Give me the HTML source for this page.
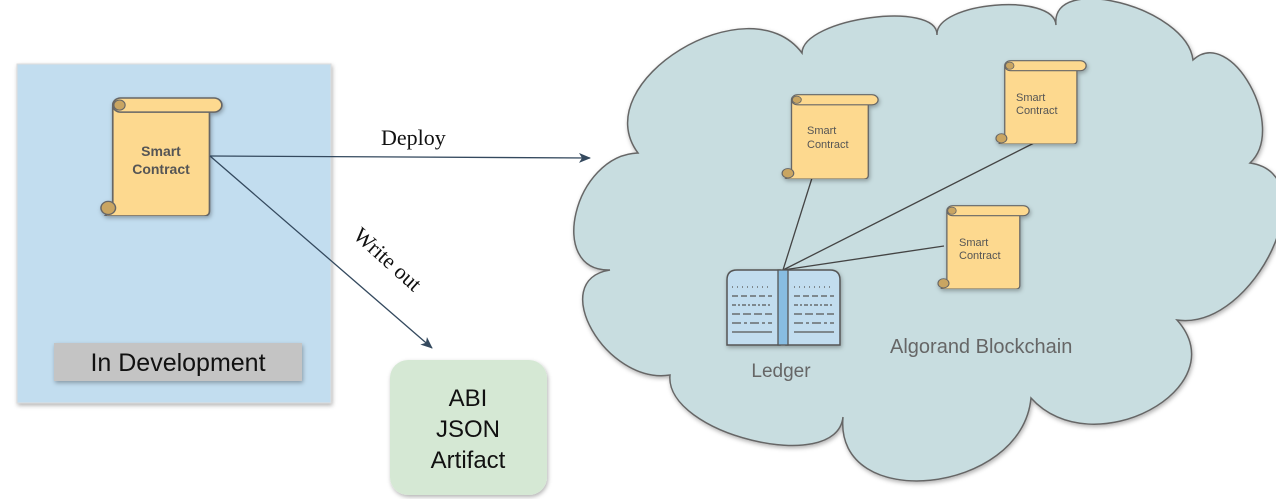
<!DOCTYPE html>
<html><head><meta charset="utf-8"><style>
html,body{margin:0;padding:0;background:#fff;overflow:hidden;}
svg{display:block;font-family:"Liberation Sans",sans-serif;}
</style></head><body>
<svg width="1276" height="499" viewBox="0 0 1276 499" xmlns="http://www.w3.org/2000/svg">
<defs>
<filter id="sh" x="-10%" y="-10%" width="130%" height="130%"><feDropShadow dx="1" dy="2" stdDeviation="2" flood-color="#000" flood-opacity="0.3"/></filter>
<marker id="ar" markerWidth="12" markerHeight="10" refX="11" refY="5" orient="auto" markerUnits="userSpaceOnUse"><path d="M0,0 L12,5 L0,10 L3,5 Z" fill="#34495e"/></marker>
<symbol id="scroll" viewBox="0 0 112 118" preserveAspectRatio="none">
<path d="M14,10 L100,10 L100,113 Q100,118 95,118 L7,118 L14,111 Z" fill="#fdd98f" stroke="#666" stroke-width="1.5"/>
<rect x="14" y="1" width="97" height="14" rx="7" fill="#fdd98f" stroke="#666" stroke-width="1.5"/>
<circle cx="20" cy="8" r="5" fill="#c9a562" stroke="#666" stroke-width="1"/>
<circle cx="10" cy="110" r="6.5" fill="#c9a562" stroke="#666" stroke-width="1.3"/>
</symbol>
</defs>
<!-- cloud -->
<path d="M638,153 C574,155 546,272 610,270 C546,280 606,385 670,375 C664,434 837,476 843,417 C834,514 1022,495 1031,398 C1092,466 1238,388 1177,320 C1255,331 1328,174 1250,163 C1288,128 1231,25 1193,60 C1187,7 1050,-28 1056,25 C1054,-8 935,2 937,35 C938,0 803,18 802,53 C749,-18 585,82 638,153 Z" fill="#c8dde0" stroke="#666" stroke-width="1.5" filter="url(#sh)"/>
<!-- left box -->
<rect x="17" y="64" width="314" height="339" fill="#c2ddef" stroke="#ddd" filter="url(#sh)"/>
<rect x="54" y="343" width="248" height="38" fill="#c4c4c4" filter="url(#sh)"/>
<text x="178" y="371" font-size="25" text-anchor="middle" fill="#111">In Development</text>
<use href="#scroll" x="97" y="97" width="126" height="119" filter="url(#sh)"/>
<text x="161" y="156" font-size="14" font-weight="bold" fill="#555" text-anchor="middle">Smart</text>
<text x="161" y="174" font-size="14" font-weight="bold" fill="#555" text-anchor="middle">Contract</text>
<!-- arrows -->
<line x1="210" y1="156" x2="590" y2="158" stroke="#34495e" stroke-width="1.3" marker-end="url(#ar)"/>
<line x1="210" y1="156" x2="432" y2="348" stroke="#34495e" stroke-width="1.3" marker-end="url(#ar)"/>
<text x="381" y="145" font-size="22" font-family="Liberation Serif,serif" fill="#111">Deploy</text>
<text transform="translate(352,237) rotate(42)" font-size="22" font-family="Liberation Serif,serif" fill="#111">Write out</text>
<!-- ABI -->
<rect x="390" y="360" width="157" height="135" rx="18" fill="#d5e8d4" filter="url(#sh)"/>
<text x="468" y="406" font-size="24" text-anchor="middle" fill="#111">ABI</text>
<text x="468" y="437" font-size="24" text-anchor="middle" fill="#111">JSON</text>
<text x="468" y="468" font-size="24" text-anchor="middle" fill="#111">Artifact</text>
<!-- ledger lines -->
<g stroke="#444" stroke-width="1.3">
<line x1="783" y1="270" x2="812" y2="178"/>
<line x1="783" y1="270" x2="1040" y2="140"/>
<line x1="783" y1="270" x2="944" y2="246"/>
</g>
<!-- cloud scrolls -->
<use href="#scroll" x="779" y="94" width="100" height="85" filter="url(#sh)"/>
<text x="807" y="134" font-size="11" fill="#555">Smart</text>
<text x="807" y="148" font-size="11" fill="#555">Contract</text>
<use href="#scroll" x="993" y="60" width="94" height="84" filter="url(#sh)"/>
<text x="1016" y="101" font-size="11" fill="#555">Smart</text>
<text x="1016" y="114" font-size="11" fill="#555">Contract</text>
<use href="#scroll" x="935" y="205" width="95" height="84" filter="url(#sh)"/>
<text x="959" y="246" font-size="11" fill="#555">Smart</text>
<text x="959" y="259" font-size="11" fill="#555">Contract</text>
<!-- ledger book -->
<g filter="url(#sh)">
<path d="M727,345 L727,280 Q727,270 737,270 L780,270 L780,345 Z" fill="#c2ddef" stroke="#555" stroke-width="1.5"/>
<path d="M786,345 L786,270 L830,270 Q840,270 840,280 L840,345 Z" fill="#c2ddef" stroke="#555" stroke-width="1.5"/>
<rect x="778" y="270" width="10" height="75" fill="#88bde2" stroke="#555" stroke-width="1.3"/>
</g>
<g stroke="#555" stroke-width="1.3">
<line x1="732" y1="287" x2="772" y2="287" stroke-dasharray="1,4"/>
<line x1="794" y1="287" x2="834" y2="287" stroke-dasharray="1,4"/>
<line x1="732" y1="296" x2="772" y2="296" stroke-dasharray="6,3"/>
<line x1="794" y1="296" x2="834" y2="296" stroke-dasharray="6,3"/>
<line x1="732" y1="305" x2="772" y2="305" stroke-dasharray="4,2,2,2"/>
<line x1="794" y1="305" x2="834" y2="305" stroke-dasharray="4,2,2,2"/>
<line x1="732" y1="314" x2="772" y2="314" stroke-dasharray="8,3"/>
<line x1="794" y1="314" x2="834" y2="314" stroke-dasharray="8,3"/>
<line x1="732" y1="323" x2="772" y2="323" stroke-dasharray="9,3,3,3"/>
<line x1="794" y1="323" x2="834" y2="323" stroke-dasharray="9,3,3,3"/>
<line x1="732" y1="332" x2="772" y2="332"/>
<line x1="794" y1="332" x2="834" y2="332"/>
</g>
<text x="781" y="377" font-size="19" text-anchor="middle" fill="#666">Ledger</text>
<text x="890" y="353" font-size="20" fill="#666">Algorand Blockchain</text>
</svg>
</body></html>
